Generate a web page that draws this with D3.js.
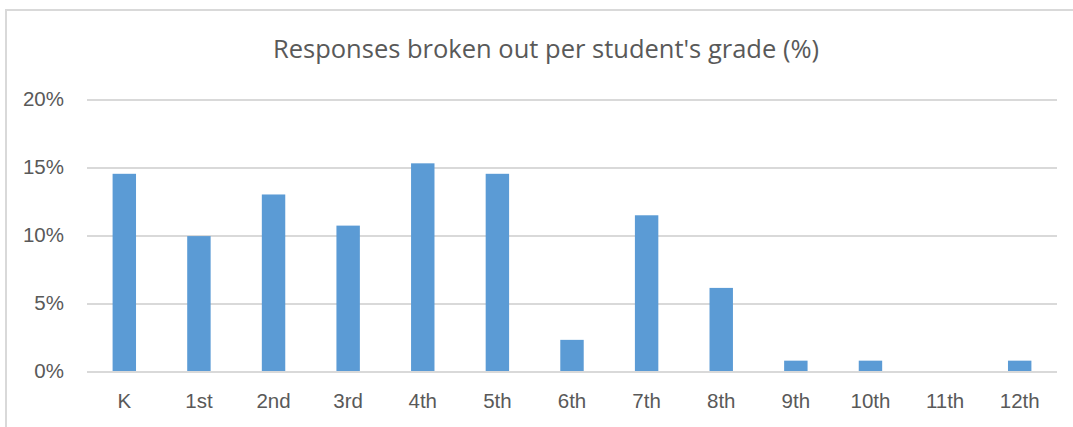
<!DOCTYPE html>
<meta charset="utf-8">
<style>
body { margin: 0; background: white; }
svg { display: block; font-family: "Open Sans", sans-serif; }
.grid line { stroke: #d9d9d9; stroke-width: 2px; shape-rendering: crispEdges; }
.grid path { display: none; }
.axis text { fill: #595959; font-size: 20.5px; }
.bar { fill: #5b9bd5; }
</style>
<svg width="1073" height="427"></svg>
<script src="https://d3js.org/d3.v7.min.js"></script>
<script>
var grades = ["K", "1st", "2nd", "3rd", "4th", "5th", "6th", "7th", "8th", "9th", "10th", "11th", "12th"];
var percents = [14.5, 9.92, 12.98, 10.69, 15.27, 14.5, 2.29, 11.45, 6.11, 0.76, 0.76, 0, 0.76];
var yTicks = [0, 5, 10, 15, 20];
var title = "Responses broken out per student's grade (%)";

var svg = d3.select("svg"),
    margin = {top: 99, right: 16, bottom: 56, left: 87},
    width = 1073 - margin.left - margin.right,
    height = 427 - margin.top - margin.bottom;

// chart frame (cropped on right and bottom)
svg.append("rect")
    .attr("x", 6).attr("y", 10)
    .attr("width", 1200).attr("height", 600)
    .attr("fill", "none")
    .attr("stroke", "#d9d9d9")
    .attr("stroke-width", 2);

var g = svg.append("g")
    .attr("transform", "translate(" + margin.left + "," + margin.top + ")");

var x = d3.scaleBand().domain(grades).range([0, width]).paddingInner(0.686).paddingOuter(0.343);
var y = d3.scaleLinear().domain([0, 20]).range([height, 0]);

g.append("g")
    .attr("class", "grid")
    .call(d3.axisLeft(y).tickValues(yTicks).tickSize(-width).tickFormat(""));

g.append("g")
    .attr("class", "axis")
    .call(d3.axisLeft(y).tickValues(yTicks).tickSize(0).tickPadding(23)
        .tickFormat(function(d) { return d + "%"; }))
    .call(function(a) { a.select(".domain").remove(); });

g.append("g")
    .attr("class", "axis")
    .attr("transform", "translate(0," + height + ")")
    .call(d3.axisBottom(x).tickSize(0).tickPadding(22))
    .call(function(a) { a.select(".domain").remove(); });

g.selectAll(".bar")
    .data(grades)
  .enter().append("rect")
    .attr("class", "bar")
    .attr("x", function(d) { return x(d); })
    .attr("width", x.bandwidth())
    .attr("y", function(d, i) { return y(percents[i]); })
    .attr("height", function(d, i) { return height - y(percents[i]); });

svg.append("text")
    .attr("x", 546)
    .attr("y", 58)
    .attr("text-anchor", "middle")
    .attr("fill", "#595959")
    .style("font-size", "25.5px")
    .text(title);
</script>
